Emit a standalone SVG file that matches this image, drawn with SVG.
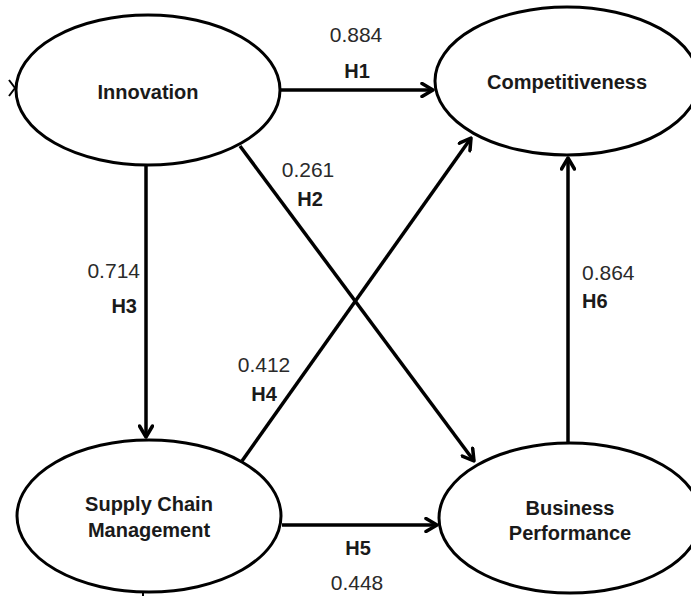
<svg xmlns="http://www.w3.org/2000/svg" width="691" height="596" viewBox="0 0 691 596">
<style>
.node ellipse{fill:#fff;stroke:#000;stroke-width:3}
.nlabel{font-family:"Liberation Sans",Arial,sans-serif;font-weight:bold;font-size:20px;fill:#1a1a1a;text-anchor:middle}
.num{font-family:"Liberation Sans",Arial,sans-serif;font-size:21px;fill:#2a2a2a}
.hyp{font-family:"Liberation Sans",Arial,sans-serif;font-weight:bold;font-size:20px;fill:#1a1a1a}
.conn{stroke:#000;stroke-width:3.5;fill:none}
</style>
<defs>
<marker id="arr" viewBox="0 0 16 16" markerWidth="16" markerHeight="16" refX="14" refY="8" orient="auto" markerUnits="userSpaceOnUse">
<path d="M3,1.5 L14,8 L3,14.5" fill="none" stroke="#000" stroke-width="3.5" stroke-linecap="round" stroke-linejoin="round"/>
</marker>
</defs>
<rect width="691" height="596" fill="#fff"/>
<g id="connectors">
<path class="conn" d="M280,90 L433,90" marker-end="url(#arr)"/>
<path class="conn" d="M240,146 L474,461" marker-end="url(#arr)"/>
<path class="conn" d="M146,165 L146,437" marker-end="url(#arr)"/>
<path class="conn" d="M242,461 L471,138" marker-end="url(#arr)"/>
<path class="conn" d="M282,525 L437,525" marker-end="url(#arr)"/>
<path class="conn" d="M568,443 L568,158" marker-end="url(#arr)"/>
<path d="M9,80 L15,88 L9,96" fill="none" stroke="#000" stroke-width="2"/>
<path d="M143,592 L143,596" stroke="#000" stroke-width="2"/>
</g>
<g id="innovation" class="node">
<ellipse cx="148" cy="90" rx="132" ry="75"/>
<text class="nlabel" x="148" y="99">Innovation</text>
</g>
<g id="competitiveness" class="node">
<ellipse cx="567" cy="81" rx="132" ry="74"/>
<text class="nlabel" x="567" y="89">Competitiveness</text>
</g>
<g id="scm" class="node">
<ellipse cx="149" cy="516" rx="132" ry="76"/>
<text class="nlabel" x="149" y="511">Supply Chain</text>
<text class="nlabel" x="149" y="537">Management</text>
</g>
<g id="business-performance" class="node">
<ellipse cx="570" cy="518" rx="131" ry="75"/>
<text class="nlabel" x="570" y="515">Business</text>
<text class="nlabel" x="570" y="540">Performance</text>
</g>
<g id="labels">
<text class="num" x="356" y="42" text-anchor="middle">0.884</text>
<text class="hyp" x="357" y="78" text-anchor="middle">H1</text>
<text class="num" x="308" y="177" text-anchor="middle">0.261</text>
<text class="hyp" x="310" y="206" text-anchor="middle">H2</text>
<text class="num" x="140" y="278" text-anchor="end">0.714</text>
<text class="hyp" x="137" y="313" text-anchor="end">H3</text>
<text class="num" x="264" y="372" text-anchor="middle">0.412</text>
<text class="hyp" x="264" y="401" text-anchor="middle">H4</text>
<text class="hyp" x="358" y="555" text-anchor="middle">H5</text>
<text class="num" x="357" y="590" text-anchor="middle">0.448</text>
<text class="num" x="582" y="280">0.864</text>
<text class="hyp" x="582" y="308">H6</text>
</g>
</svg>
